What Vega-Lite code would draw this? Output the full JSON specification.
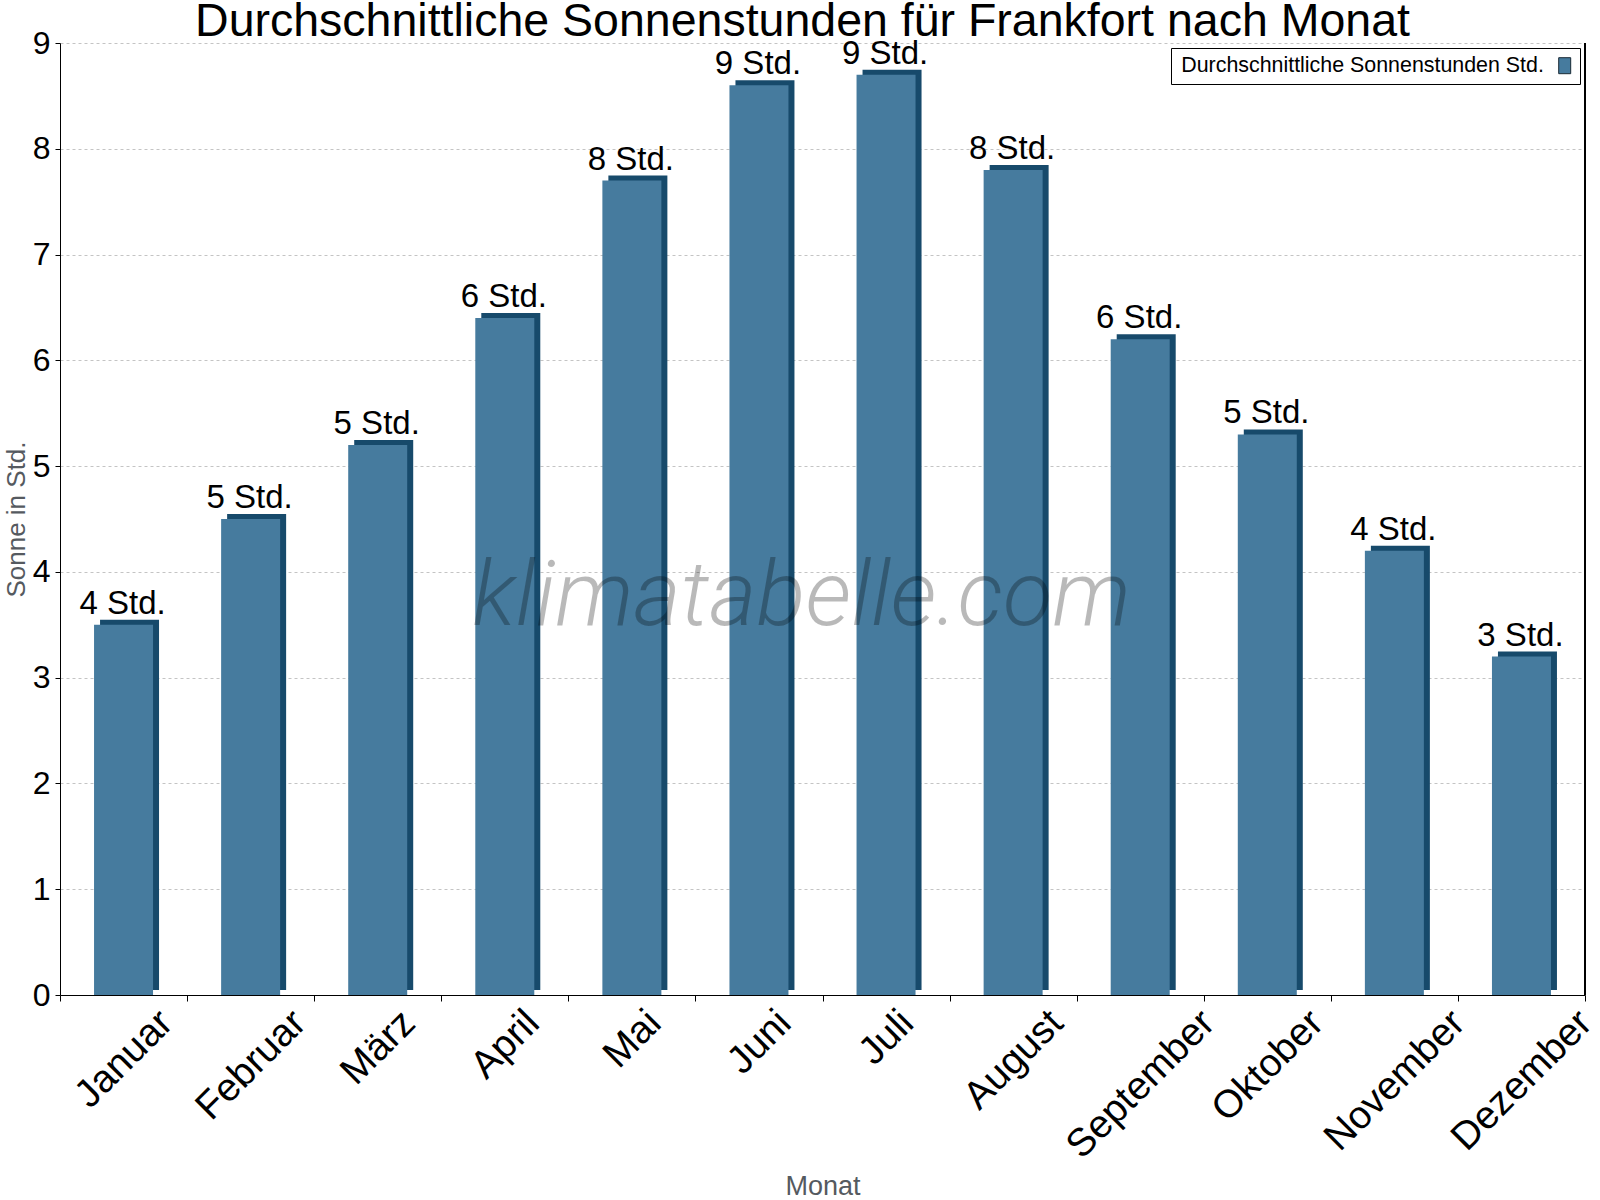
{
  "$schema": "https://vega.github.io/schema/vega-lite/v6.json",
  "width": 1525,
  "height": 952,
  "autosize": "none",
  "padding": {"left": 60, "top": 43, "right": 15, "bottom": 205},
  "background": "white",
  "config": {
    "view": {"stroke": null},
    "font": "Liberation Sans"
  },
  "title": {
    "text": "Durchschnittliche Sonnenstunden für Frankfort nach Monat",
    "fontSize": 46.5,
    "font": "Liberation Sans",
    "fontWeight": "normal",
    "color": "black",
    "anchor": "middle",
    "dx": -20,
    "offset": -55,
    "baseline": "alphabetic"
  },
  "data": {
    "values": [
      {"monat": "Januar", "sonne": 3.5, "label": "4 Std."},
      {"monat": "Februar", "sonne": 4.5, "label": "5 Std."},
      {"monat": "März", "sonne": 5.2, "label": "5 Std."},
      {"monat": "April", "sonne": 6.4, "label": "6 Std."},
      {"monat": "Mai", "sonne": 7.7, "label": "8 Std."},
      {"monat": "Juni", "sonne": 8.6, "label": "9 Std."},
      {"monat": "Juli", "sonne": 8.7, "label": "9 Std."},
      {"monat": "August", "sonne": 7.8, "label": "8 Std."},
      {"monat": "September", "sonne": 6.2, "label": "6 Std."},
      {"monat": "Oktober", "sonne": 5.3, "label": "5 Std."},
      {"monat": "November", "sonne": 4.2, "label": "4 Std."},
      {"monat": "Dezember", "sonne": 3.2, "label": "3 Std."}
    ]
  },
  "encoding": {
    "x": {
      "field": "monat",
      "type": "nominal",
      "sort": null,
      "scale": {"paddingInner": 0, "paddingOuter": 0},
      "axis": {
        "title": "Monat",
        "titleFontSize": 27,
        "titleFontWeight": "normal",
        "titleColor": "#555a60",
        "titlePadding": 8,
        "labelAngle": -45,
        "labelAlign": "center",
        "labelBaseline": "middle",
        "labelFontSize": 39,
        "labelColor": "black",
        "labelLimit": 0,
        "labelBound": false,
        "labelOverlap": false,
        "labelPadding": {"expr": "({'Januar': 57.5, 'Februar': 63.6, 'März': 46.0, 'April': 42.9, 'Mai': 37.5, 'Juni': 40.6, 'Juli': 36.0, 'August': 58.3, 'September': 82.8, 'Oktober': 64.4, 'November': 79.0, 'Dezember': 79.0})[datum.value]"},
        "tickBand": "extent",
        "tickColor": "black",
        "tickSize": 6,
        "domainColor": "black"
      }
    },
    "y": {
      "field": "sonne",
      "type": "quantitative",
      "scale": {"domain": [0, 9], "nice": false},
      "axis": {
        "title": "Sonne in Std.",
        "titleFontSize": 26,
        "titleFontWeight": "normal",
        "titleColor": "#555a60",
        "titlePadding": 3,
        "values": [0, 1, 2, 3, 4, 5, 6, 7, 8, 9],
        "labelFontSize": 32,
        "labelColor": "black",
        "labelPadding": 5,
        "tickColor": "black",
        "tickSize": 5,
        "domainColor": "black",
        "grid": true,
        "gridColor": "#c4c4c4",
        "gridDash": [3, 3]
      }
    }
  },
  "layer": [
    {
      "mark": {"type": "bar", "width": 59, "xOffset": 6, "yOffset": -5, "color": "#174a6b"}
    },
    {
      "mark": {"type": "bar", "width": 59},
      "encoding": {
        "color": {
          "datum": "Durchschnittliche Sonnenstunden Std.",
          "scale": {"range": ["#467b9e"]},
          "legend": {
            "title": null,
            "orient": "top-right",
            "offset": 5,
            "strokeColor": "black",
            "fillColor": "white",
            "padding": 7,
            "labelFontSize": 21.4,
            "labelColor": "black",
            "labelLimit": 0,
            "labelAlign": "right",
            "labelOffset": -31.5,
            "symbolOffset": 376,
            "symbolType": "M-0.75,-1H0.75V1H-0.75Z",
            "symbolSize": 256,
            "symbolStrokeColor": "#1a2a36",
            "symbolStrokeWidth": 1,
            "symbolOpacity": 1
          }
        }
      }
    },
    {
      "mark": {"type": "rule", "color": "black", "strokeWidth": 1},
      "encoding": {
        "x": {"datum": "Dezember", "type": "nominal", "bandPosition": 1},
        "y": {"datum": 0},
        "y2": {"datum": 9}
      }
    },
    {
      "mark": {"type": "text", "fontSize": 33, "color": "black", "baseline": "alphabetic", "dy": -11, "dx": -1},
      "encoding": {"text": {"field": "label"}}
    },
    {
      "data": {"values": [{"marke": "klimatabelle.com", "hoehe": 3.5}]},
      "mark": {"type": "text", "font": "Roboto", "fontWeight": 300, "fontSize": 91, "fontStyle": "italic", "color": "black", "opacity": 0.27, "baseline": "alphabetic", "dx": -21},
      "encoding": {
        "x": null,
        "y": {"field": "hoehe", "type": "quantitative"},
        "text": {"field": "marke"}
      }
    }
  ]
}
